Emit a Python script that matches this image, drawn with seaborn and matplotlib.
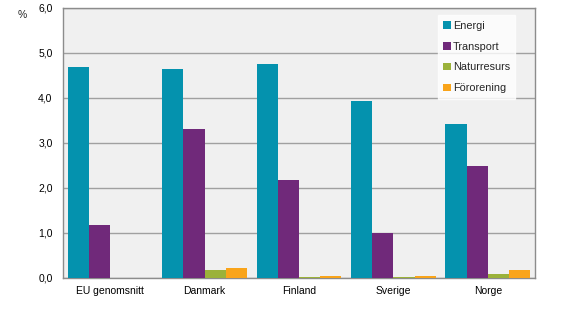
import matplotlib
matplotlib.use("Agg")
import matplotlib.pyplot as plt
import seaborn as sns
import pandas as pd
from matplotlib.ticker import FuncFormatter

categories = ["EU genomsnitt", "Danmark", "Finland", "Sverige", "Norge"]
series = ["Energi", "Transport", "Naturresurs", "Förorening"]
energi = [4.69, 4.64, 4.76, 3.93, 3.42]
transport = [1.18, 3.31, 2.18, 1.00, 2.49]
naturresurs = [0.0, 0.18, 0.02, 0.02, 0.09]
fororening = [0.0, 0.22, 0.04, 0.04, 0.18]
colors = ["#0492AE", "#70297A", "#9BB23A", "#F9A41A"]

rows = []
for s, vals in zip(series, [energi, transport, naturresurs, fororening]):
    for c, v in zip(categories, vals):
        rows.append({"Land": c, "Typ": s, "Värde": v})
df = pd.DataFrame(rows)

sns.set_style("white")
plt.rcParams["font.family"] = ["Liberation Sans", "DejaVu Sans"]

fig = plt.figure(figsize=(5.61, 3.30), dpi=100)
ax = fig.add_axes([0.1123, 0.1576, 0.8414, 0.8182])
ax.set_facecolor("#F0F0F0")

sns.barplot(data=df, x="Land", y="Värde", hue="Typ", order=categories,
            hue_order=series, palette=colors, width=0.9, saturation=1,
            ax=ax, zorder=3, linewidth=0)

ax.set_ylim(0, 6)
ax.set_yticks([0, 1, 2, 3, 4, 5, 6])
ax.yaxis.set_major_formatter(FuncFormatter(lambda v, p: f"{v:.1f}".replace(".", ",")))
ax.grid(axis="y", color="#A0A0A0", linewidth=1, zorder=0)
ax.set_axisbelow(True)
for sp in ax.spines.values():
    sp.set_color("#8C8C8C")
    sp.set_linewidth(1)
ax.set_xlabel("")
ax.set_ylabel("")
ax.tick_params(axis="both", labelsize=7.5, colors="#000000", length=3, color="#8C8C8C")
ax.tick_params(axis="x", length=0, pad=6)
ax.tick_params(axis="y", direction="out", length=4)
ax.set_xlim(-0.5, 4.5)

fig.text(0.032, 0.955, "%", fontsize=7.5, ha="left", va="center")

leg = ax.legend(loc="upper right", bbox_to_anchor=(0.97, 0.993), frameon=True,
                fontsize=7.8, handlelength=0.7, handleheight=0.7,
                handletextpad=0.2, labelspacing=1.0, borderpad=0.5,
                fancybox=False)
leg.get_frame().set_facecolor("white")
leg.get_frame().set_edgecolor("white")

fig.savefig("out.png", dpi=100)
